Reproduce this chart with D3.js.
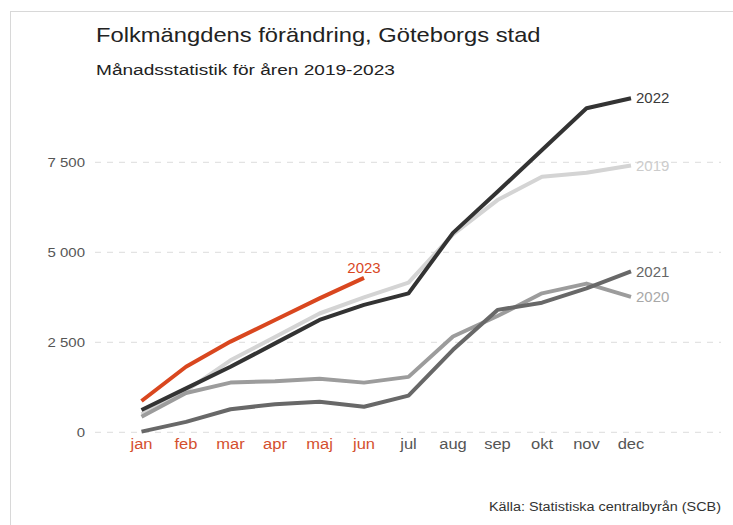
<!DOCTYPE html>
<html>
<head>
<meta charset="utf-8">
<script src="https://cdn.jsdelivr.net/npm/d3@7"></script>
<style>
  body { margin: 0; background: #fff; }
  svg { display: block; font-family: "Liberation Sans", Arial, sans-serif; }
</style>
</head>
<body>
<svg id="chart"></svg>
<script>
const months = ["jan", "feb", "mar", "apr", "maj", "jun", "jul", "aug", "sep", "okt", "nov", "dec"];
const yTicks = [0, 2500, 5000, 7500];

const v2019 = [500, 1150, 2000, 2650, 3300, 3750, 4160, 5500, 6450, 7100, 7210, 7410];
const v2020 = [430, 1090, 1380, 1420, 1490, 1380, 1540, 2660, 3230, 3860, 4130, 3760];
const v2021 = [20, 290, 640, 780, 850, 710, 1020, 2290, 3400, 3600, 4000, 4470];
const v2022 = [620, 1220, 1820, 2470, 3120, 3540, 3860, 5540, 6680, 7840, 9000, 9280];
const v2023 = [870, 1820, 2520, 3120, 3720, 4290];

const series = [
  { name: "2019", values: v2019, color: "#d4d4d4", label: "#cccccc" },
  { name: "2020", values: v2020, color: "#9c9c9c", label: "#a8a8a8" },
  { name: "2021", values: v2021, color: "#686868", label: "#666666" },
  { name: "2022", values: v2022, color: "#333333", label: "#3a3a3a" },
  { name: "2023", values: v2023, color: "#d9471f", label: "#d9471f" }
];

const W = 733, H = 525;
const svg = d3.select("#chart").attr("width", W).attr("height", H);

// the source text is a bit wider than Liberation Sans, so stretch it
function widen(sel, k) {
  sel.each(function() {
    const len = this.getComputedTextLength();
    d3.select(this)
      .attr("textLength", len * k)
      .attr("lengthAdjust", "spacingAndGlyphs");
  });
}

// frame
svg.append("rect")
  .attr("x", 10.5).attr("y", 11.5)
  .attr("width", W).attr("height", H)
  .attr("fill", "none").attr("stroke", "#d8d8d8").attr("stroke-width", 1);

const x = d3.scalePoint().domain(months).range([141.5, 631]);
const y = d3.scaleLinear().domain([0, 7500]).range([432.3, 162.3]);

// grid
svg.append("g").selectAll("line")
  .data(yTicks)
  .join("line")
  .attr("x1", 95).attr("x2", 721)
  .attr("y1", d => y(d)).attr("y2", d => y(d))
  .attr("stroke", "#e3e3e3")
  .attr("stroke-width", 1.2)
  .attr("stroke-dasharray", "6,6");

// y labels
const fmt = d => d3.format(",")(d).replace(",", " ");
svg.append("g").selectAll("text")
  .data(yTicks)
  .join("text")
  .attr("x", 85).attr("y", d => y(d))
  .attr("dy", "0.35em")
  .attr("text-anchor", "end")
  .attr("font-size", 13)
  .attr("fill", "#555")
  .text(fmt)
  .call(widen, 1.15);

// x labels
svg.append("g").selectAll("text")
  .data(months)
  .join("text")
  .attr("x", d => x(d)).attr("y", 449)
  .attr("text-anchor", "middle")
  .attr("font-size", 14)
  .attr("fill", (d, i) => i < v2023.length ? "#d4502e" : "#555")
  .text(d => d)
  .call(widen, 1.18);

// lines
const line = d3.line()
  .x((d, i) => x(months[i]))
  .y(d => y(d));

svg.append("g").selectAll("path")
  .data(series)
  .join("path")
  .attr("d", d => line(d.values))
  .attr("fill", "none")
  .attr("stroke", d => d.color)
  .attr("stroke-width", 4)
  .attr("stroke-linejoin", "round");

// end labels
series.forEach(s => {
  const last = s.values.length - 1;
  const t = svg.append("text")
    .attr("fill", s.label)
    .attr("font-size", 15)
    .text(s.name);
  if (s.name === "2023") {
    t.attr("x", x(months[last])).attr("y", y(s.values[last]) - 5)
      .attr("text-anchor", "middle");
  } else {
    t.attr("x", x(months[last]) + 5).attr("y", y(s.values[last]))
      .attr("dy", "0.35em");
  }
});

// titles
svg.append("text")
  .attr("x", 96).attr("y", 42)
  .attr("font-size", 21)
  .attr("fill", "#222")
  .text("Folkmängdens förändring, Göteborgs stad")
  .call(widen, 1.13);

svg.append("text")
  .attr("x", 96).attr("y", 75)
  .attr("font-size", 15.5)
  .attr("fill", "#222")
  .text("Månadsstatistik för åren 2019-2023")
  .call(widen, 1.23);

svg.append("text")
  .attr("x", 721).attr("y", 511)
  .attr("text-anchor", "end")
  .attr("font-size", 12)
  .attr("fill", "#333")
  .text("Källa: Statistiska centralbyrån (SCB)")
  .call(widen, 1.2);
</script>
</body>
</html>
